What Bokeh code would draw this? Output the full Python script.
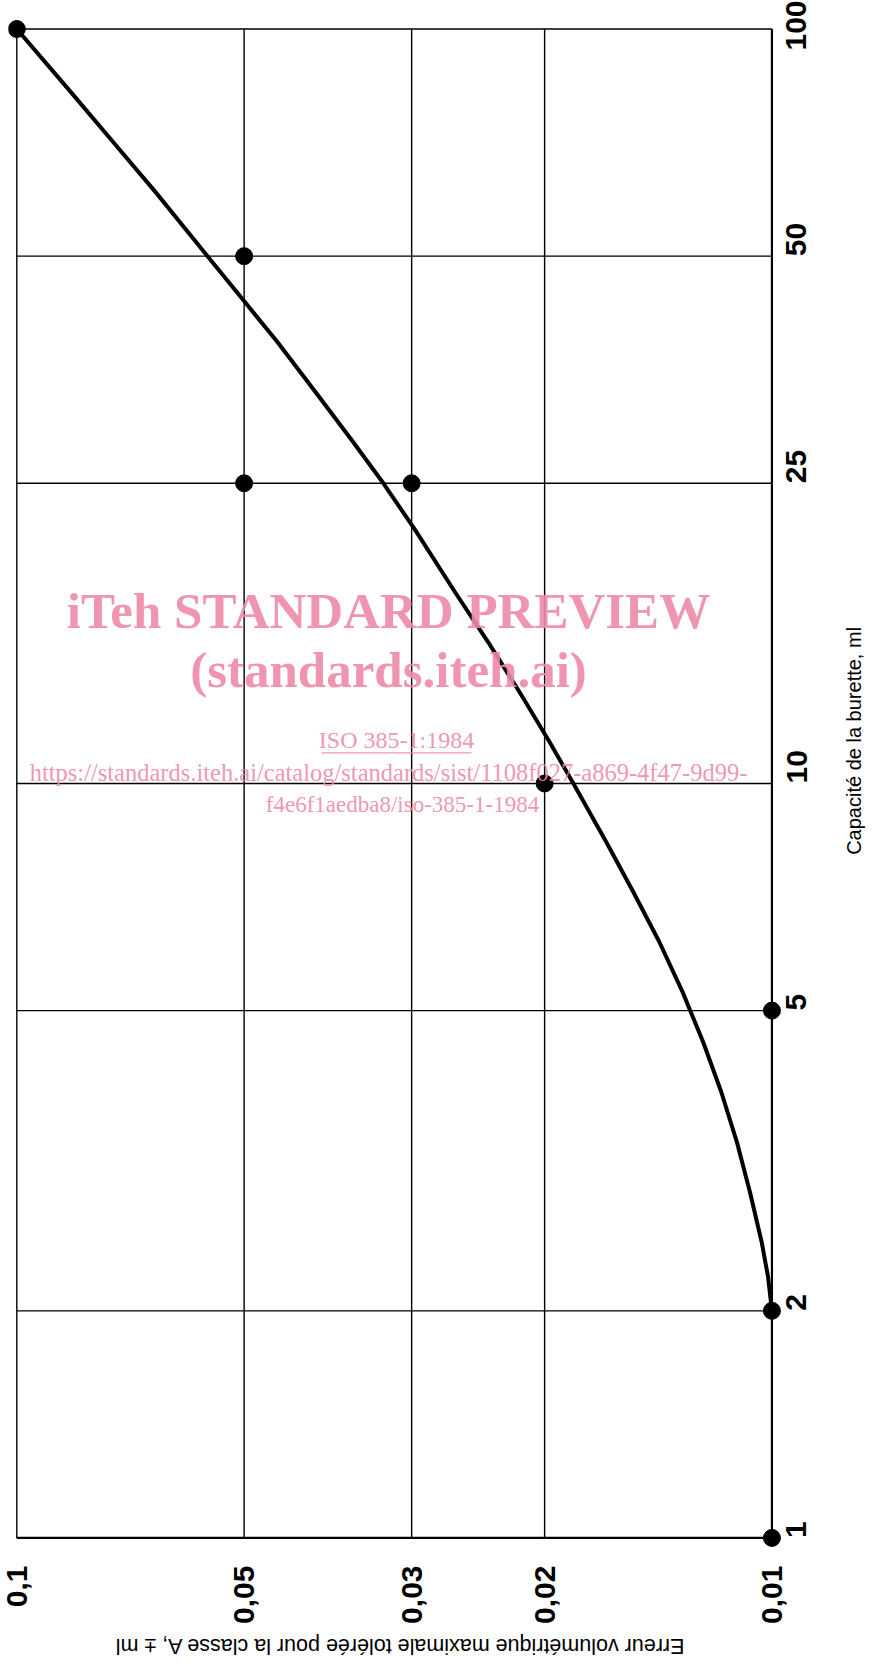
import math
from bokeh.plotting import figure
from bokeh.models import Range1d, FixedTicker, Label, BoxAnnotation
from bokeh.layouts import column, row
from bokeh.embed import file_html
from bokeh.resources import INLINE

# ---- data ----
capacity_ticks = [1, 2, 5, 10, 25, 50, 100]
capacity_tick_labels = ["1", "2", "5", "10", "25", "50", "100"]
error_ticks = [0.1, 0.05, 0.03, 0.02, 0.01]
error_tick_labels = ["0,1", "0,05", "0,03", "0,02", "0,01"]

point_capacity = [1, 2, 5, 10, 25, 25, 50, 100]
point_error = [0.01, 0.01, 0.01, 0.02, 0.03, 0.05, 0.05, 0.1]

curve_capacity = [100, 82.5, 70.8, 60.8, 50, 43.7, 38.5, 33.0, 28.4, 25, 21.7,
                  17.9, 15.4, 13.2, 11.35, 10, 8.37, 7.18, 6.17, 5.29, 4.54,
                  3.90, 3.35, 2.87, 2.47, 2.22, 2]
curve_error = [0.1, 0.0848, 0.0745, 0.0655, 0.0559, 0.0501, 0.0452, 0.0402, 0.0359,
               0.0327, 0.0297, 0.02625, 0.02376, 0.02157, 0.0197, 0.01832, 0.01658,
               0.01526, 0.0141, 0.01313, 0.01233, 0.01167, 0.01113, 0.01069,
               0.01032, 0.01012, 0.0100]

x_title = "Erreur volumétrique maximale tolérée pour la classe A, ± ml"
y_title = "Capacité de la burette, ml"
wm_lines = ["iTeh STANDARD PREVIEW", "(standards.iteh.ai)", "ISO 385-1:1984",
            "https://standards.iteh.ai/catalog/standards/sist/1108f027-a869-4f47-9d99-",
            "f4e6f1aedba8/iso-385-1-1984"]

x_range = Range1d(max(error_ticks) * 10 ** 0.011, min(error_ticks) / 10 ** 0.014)
y_range = Range1d(min(capacity_ticks) / 10 ** 0.014, max(capacity_ticks) * 10 ** 0.014)

p = figure(x_axis_type="log", y_axis_type="log", y_axis_location="right",
           x_range=x_range, y_range=y_range,
           width=838, height=1633,
           min_border_left=8, min_border_top=18, min_border_right=56, min_border_bottom=85,
           output_backend="svg", toolbar_location=None)
p.outline_line_color = None
p.background_fill_color = "white"
p.border_fill_color = "white"
p.xgrid.visible = False
p.ygrid.visible = False

n_e = len(error_ticks)
n_c = len(capacity_ticks)
# grid lines bounded to the tick extent
p.segment(x0=error_ticks, x1=error_ticks,
          y0=[min(capacity_ticks)] * n_e, y1=[max(capacity_ticks)] * n_e,
          line_color="black", line_width=1.4)
p.segment(x0=[max(error_ticks)] * n_c, x1=[min(error_ticks)] * n_c,
          y0=capacity_ticks, y1=capacity_ticks,
          line_color="black", line_width=1.4)
# heavier bottom and right borders
p.segment(x0=[max(error_ticks)], x1=[min(error_ticks)],
          y0=[min(capacity_ticks)], y1=[min(capacity_ticks)],
          line_color="black", line_width=2.2)
p.segment(x0=[min(error_ticks)], x1=[min(error_ticks)],
          y0=[min(capacity_ticks)], y1=[max(capacity_ticks)],
          line_color="black", line_width=2.2)

p.line(curve_error, curve_capacity, line_color="black", line_width=4,
       line_join="round", line_cap="round")
p.scatter(point_error, point_capacity, size=17, color="black")

for ax, ticks, labels, standoff in ((p.xaxis[0], error_ticks, error_tick_labels, 11),
                                    (p.yaxis[0], capacity_ticks, capacity_tick_labels, 8)):
    ax.ticker = FixedTicker(ticks=ticks, minor_ticks=[])
    ax.major_label_overrides = {t: l for t, l in zip(ticks, labels)}
    ax.major_label_orientation = math.pi / 2
    ax.major_label_text_font = "Liberation Sans"
    ax.major_label_text_font_style = "bold"
    ax.major_label_text_font_size = "30px"
    ax.major_label_text_color = "black"
    ax.major_label_standoff = standoff
    ax.axis_line_color = None
    ax.major_tick_line_color = None
    ax.minor_tick_line_color = None

# watermark (screen units relative to the plot frame)
wm_color = "#EE89A6"
wm_specs = [(380, 938, "51px", "bold"), (380, 879, "51px", "bold"), (388, 809, "24px", "normal"),
            (380, 776, "24.5px", "normal"), (394, 744, "23px", "normal")]
for txt, (wx, wy, fs, st) in zip(wm_lines, wm_specs):
    p.add_layout(Label(x=wx, y=wy, x_units="screen", y_units="screen", text=txt,
                       text_align="center", text_baseline="alphabetic",
                       text_font="Liberation Serif", text_font_style=st,
                       text_font_size=fs, text_color=wm_color, text_alpha=0.9))
# underline of the ISO reference in the watermark
p.add_layout(BoxAnnotation(left=313, right=463, bottom=795, top=796.3,
                           left_units="screen", right_units="screen",
                           bottom_units="screen", top_units="screen",
                           fill_color=wm_color, fill_alpha=0.9, line_color=None))


def strip(w, h, xr, yr):
    f = figure(width=w, height=h, x_range=Range1d(*xr), y_range=Range1d(*yr),
               x_axis_location=None, y_axis_location=None,
               min_border=0, output_backend="svg", toolbar_location=None)
    f.grid.visible = False
    f.outline_line_color = None
    f.background_fill_color = "white"
    f.border_fill_color = "white"
    return f


# right-hand axis title (reads bottom to top); ranges expressed in page pixels
pr = strip(29, 1633, (846, 875), (1641, 8))
pr.add_layout(Label(x=861, y=779, text=y_title,
                    angle=math.pi / 2, text_align="center", text_baseline="middle",
                    text_font="Liberation Sans", text_font_size="20px", text_color="black"))

# bottom axis title (upside down, as in the rotated original)
pb = strip(867, 24, (8, 875), (1665, 1641))
pb.add_layout(Label(x=407, y=1653, text=x_title,
                    angle=math.pi, text_align="center", text_baseline="middle",
                    text_font="Liberation Sans", text_font_size="21.5px", text_color="black"))

layout = column(row(p, pr), pb)
open("out.html", "w").write(file_html(layout, INLINE))
